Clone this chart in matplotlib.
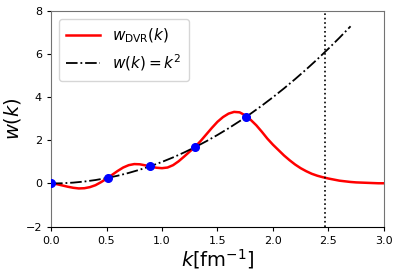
import matplotlib
matplotlib.use("Agg")
import matplotlib.pyplot as plt
import numpy as np

# red curve w_DVR(k), every 0.05 fm^-1
k_dvr = np.round(np.arange(0, 3.0001, 0.05), 2)
w_dvr = [0.0, -0.03, -0.09, -0.15, -0.20, -0.23, -0.22, -0.17, -0.08, 0.06,
         0.22, 0.40, 0.58, 0.74, 0.85, 0.90, 0.89, 0.84, 0.78, 0.73,
         0.71, 0.74, 0.85, 1.03, 1.25, 1.48, 1.71, 1.98, 2.28, 2.58,
         2.86, 3.08, 3.24, 3.32, 3.30, 3.16, 2.95, 2.70, 2.40, 2.08,
         1.80, 1.55, 1.30, 1.08, 0.88, 0.71, 0.57, 0.45, 0.36, 0.29,
         0.23, 0.18, 0.13, 0.10, 0.07, 0.05, 0.04, 0.03, 0.02, 0.01, 0.01]

# black dash-dot curve w(k) = k^2
k_sq = [0.0, 0.1, 0.2, 0.3, 0.4, 0.5, 0.6, 0.7, 0.8, 0.9, 1.0, 1.1, 1.2, 1.3,
        1.4, 1.5, 1.6, 1.7, 1.8, 1.9, 2.0, 2.1, 2.2, 2.3, 2.4, 2.5, 2.6, 2.7]
w_sq = [0.0, 0.01, 0.04, 0.09, 0.16, 0.25, 0.36, 0.49, 0.64, 0.81, 1.0, 1.21, 1.44, 1.69,
        1.96, 2.25, 2.56, 2.89, 3.24, 3.61, 4.0, 4.41, 4.84, 5.29, 5.76, 6.25, 6.76, 7.29]

# mesh points (blue dots)
k_mesh = [0.0, 0.51, 0.89, 1.30, 1.76]
w_mesh = [0.0, 0.26, 0.79, 1.69, 3.10]

k_cut = 2.47

fig = plt.figure(figsize=(3.99, 2.75), dpi=100)
ax = fig.add_axes([0.128, 0.176, 0.834, 0.784])

ax.plot(k_dvr, w_dvr, color="red", lw=1.8, label=r"$w_{\rm DVR}(k)$")
ax.plot(k_sq, w_sq, color="black", ls="-.", lw=1.3, label=r"$w(k) = k^2$")
ax.plot(k_mesh, w_mesh, "o", color="blue", ms=5.5, zorder=5)
ax.axvline(k_cut, color="black", ls=":", lw=1.2)

ax.set_xlim(0, 3)
ax.set_ylim(-2, 8)
ax.set_xticks([0, 0.5, 1.0, 1.5, 2.0, 2.5, 3.0])
ax.set_yticks([-2, 0, 2, 4, 6, 8])
ax.tick_params(labelsize=8, length=3)
ax.set_xlabel(r"$k[\mathrm{fm}^{-1}]$", fontsize=14, labelpad=1)
ax.set_ylabel(r"$w(k)$", fontsize=14, labelpad=2)
for s in ["left", "top", "right"]:
    ax.spines[s].set_color("0.45")

ax.legend(loc="upper left", fontsize=11, handlelength=2.2, borderpad=0.5)

fig.savefig("out.png", dpi=100)
